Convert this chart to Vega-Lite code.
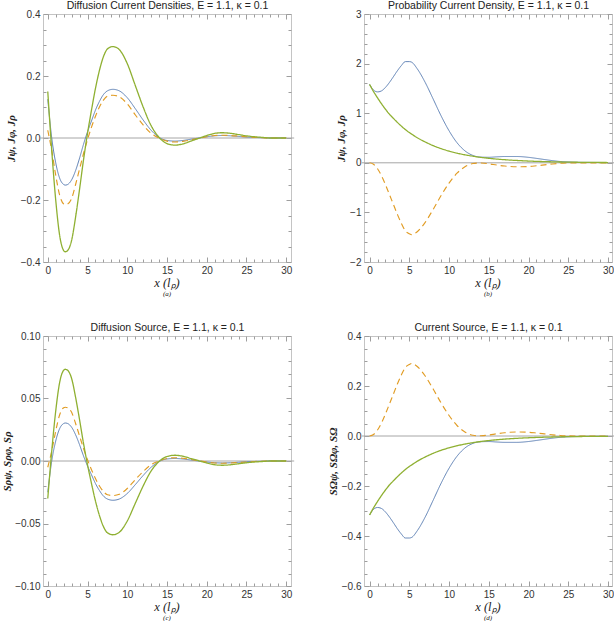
{
"$schema": "https://vega.github.io/schema/vega-lite/v6.json",
"padding": {"left": 1, "top": 0, "right": 1, "bottom": 0},
"background": "white",
"config": {
  "view": {"stroke": "#c4c4c4", "strokeWidth": 1},
  "axis": {"domain": false, "grid": false, "ticks": true, "tickColor": "#9e9e9e", "tickWidth": 1, "tickOpacity": 1, "labelFont": "Liberation Sans", "labelFontSize": 10, "labelColor": "#333", "titleColor": "#222"},
  "line": {"clip": true}
},
"datasets": {
  "zero": [{"x": -1, "y": 0}, {"x": 31, "y": 0}],
  "a": [
    {"x":0,"s":"psi","y":0.125},{"x":0.5,"s":"psi","y":0.0},{"x":1,"s":"psi","y":-0.08},{"x":1.5,"s":"psi","y":-0.13},{"x":2,"s":"psi","y":-0.15},{"x":2.2,"s":"psi","y":-0.152},{"x":2.5,"s":"psi","y":-0.15},{"x":3,"s":"psi","y":-0.135},{"x":3.5,"s":"psi","y":-0.105},{"x":4,"s":"psi","y":-0.065},{"x":4.5,"s":"psi","y":-0.02},{"x":5,"s":"psi","y":0.02},{"x":5.5,"s":"psi","y":0.055},{"x":6,"s":"psi","y":0.09},{"x":6.5,"s":"psi","y":0.118},{"x":7,"s":"psi","y":0.14},{"x":7.5,"s":"psi","y":0.152},{"x":8.2,"s":"psi","y":0.157},{"x":9,"s":"psi","y":0.152},{"x":10,"s":"psi","y":0.13},{"x":11,"s":"psi","y":0.095},{"x":12,"s":"psi","y":0.058},{"x":13,"s":"psi","y":0.025},{"x":14,"s":"psi","y":0.002},{"x":15,"s":"psi","y":-0.008},{"x":16,"s":"psi","y":-0.01},{"x":17,"s":"psi","y":-0.008},{"x":18,"s":"psi","y":-0.004},{"x":19,"s":"psi","y":0},{"x":20,"s":"psi","y":0.004},{"x":21,"s":"psi","y":0.007},{"x":22,"s":"psi","y":0.008},{"x":23,"s":"psi","y":0.007},{"x":24,"s":"psi","y":0.005},{"x":25,"s":"psi","y":0.003},{"x":26,"s":"psi","y":0.002},{"x":27,"s":"psi","y":0.001},{"x":28,"s":"psi","y":0},{"x":30,"s":"psi","y":0},
    {"x":0,"s":"phi","y":0.025},{"x":0.5,"s":"phi","y":-0.04},{"x":1,"s":"phi","y":-0.12},{"x":1.5,"s":"phi","y":-0.185},{"x":2,"s":"phi","y":-0.213},{"x":2.2,"s":"phi","y":-0.215},{"x":2.5,"s":"phi","y":-0.213},{"x":3,"s":"phi","y":-0.195},{"x":3.5,"s":"phi","y":-0.15},{"x":4,"s":"phi","y":-0.1},{"x":4.5,"s":"phi","y":-0.05},{"x":5,"s":"phi","y":-0.005},{"x":5.5,"s":"phi","y":0.035},{"x":6,"s":"phi","y":0.07},{"x":6.5,"s":"phi","y":0.1},{"x":7,"s":"phi","y":0.122},{"x":7.5,"s":"phi","y":0.135},{"x":8.2,"s":"phi","y":0.138},{"x":9,"s":"phi","y":0.133},{"x":10,"s":"phi","y":0.11},{"x":11,"s":"phi","y":0.075},{"x":12,"s":"phi","y":0.042},{"x":13,"s":"phi","y":0.015},{"x":14,"s":"phi","y":0},{"x":15,"s":"phi","y":-0.01},{"x":16,"s":"phi","y":-0.013},{"x":17,"s":"phi","y":-0.011},{"x":18,"s":"phi","y":-0.006},{"x":19,"s":"phi","y":-0.001},{"x":20,"s":"phi","y":0.004},{"x":21,"s":"phi","y":0.008},{"x":22,"s":"phi","y":0.009},{"x":23,"s":"phi","y":0.008},{"x":24,"s":"phi","y":0.006},{"x":25,"s":"phi","y":0.004},{"x":26,"s":"phi","y":0.002},{"x":27,"s":"phi","y":0.001},{"x":28,"s":"phi","y":0},{"x":30,"s":"phi","y":0},
    {"x":0,"s":"rho","y":0.15},{"x":0.5,"s":"rho","y":-0.04},{"x":1,"s":"rho","y":-0.2},{"x":1.5,"s":"rho","y":-0.315},{"x":2,"s":"rho","y":-0.363},{"x":2.2,"s":"rho","y":-0.367},{"x":2.5,"s":"rho","y":-0.363},{"x":3,"s":"rho","y":-0.33},{"x":3.5,"s":"rho","y":-0.255},{"x":4,"s":"rho","y":-0.165},{"x":4.5,"s":"rho","y":-0.07},{"x":5,"s":"rho","y":0.015},{"x":5.5,"s":"rho","y":0.09},{"x":6,"s":"rho","y":0.16},{"x":6.5,"s":"rho","y":0.218},{"x":7,"s":"rho","y":0.262},{"x":7.5,"s":"rho","y":0.287},{"x":8.2,"s":"rho","y":0.295},{"x":9,"s":"rho","y":0.285},{"x":10,"s":"rho","y":0.24},{"x":11,"s":"rho","y":0.17},{"x":12,"s":"rho","y":0.1},{"x":13,"s":"rho","y":0.04},{"x":14,"s":"rho","y":0.002},{"x":15,"s":"rho","y":-0.018},{"x":16,"s":"rho","y":-0.023},{"x":17,"s":"rho","y":-0.019},{"x":18,"s":"rho","y":-0.01},{"x":19,"s":"rho","y":-0.001},{"x":20,"s":"rho","y":0.008},{"x":21,"s":"rho","y":0.015},{"x":22,"s":"rho","y":0.017},{"x":23,"s":"rho","y":0.015},{"x":24,"s":"rho","y":0.011},{"x":25,"s":"rho","y":0.007},{"x":26,"s":"rho","y":0.004},{"x":27,"s":"rho","y":0.002},{"x":28,"s":"rho","y":0},{"x":30,"s":"rho","y":0}
  ],
  "b": [
    {"x":0,"s":"psi","y":1.58},{"x":0.5,"s":"psi","y":1.467},{"x":1,"s":"psi","y":1.43},{"x":1.5,"s":"psi","y":1.45},{"x":2,"s":"psi","y":1.52},{"x":2.5,"s":"psi","y":1.62},{"x":3,"s":"psi","y":1.736},{"x":3.5,"s":"psi","y":1.855},{"x":4,"s":"psi","y":1.96},{"x":4.5,"s":"psi","y":2.04},{"x":5,"s":"psi","y":2.04},{"x":5.3,"s":"psi","y":2.028},{"x":6,"s":"psi","y":1.895},{"x":7,"s":"psi","y":1.62},{"x":8,"s":"psi","y":1.286},{"x":9,"s":"psi","y":0.946},{"x":10,"s":"psi","y":0.646},{"x":11,"s":"psi","y":0.405},{"x":12,"s":"psi","y":0.241},{"x":13,"s":"psi","y":0.148},{"x":14,"s":"psi","y":0.115},{"x":15,"s":"psi","y":0.111},{"x":16,"s":"psi","y":0.12},{"x":17,"s":"psi","y":0.127},{"x":18.5,"s":"psi","y":0.127},{"x":20,"s":"psi","y":0.11},{"x":21,"s":"psi","y":0.089},{"x":22,"s":"psi","y":0.066},{"x":23,"s":"psi","y":0.044},{"x":24,"s":"psi","y":0.026},{"x":25,"s":"psi","y":0.017},{"x":26,"s":"psi","y":0.011},{"x":28,"s":"psi","y":0.0077},{"x":30,"s":"psi","y":0.0053},
    {"x":0,"s":"phi","y":0},{"x":0.5,"s":"phi","y":-0.03},{"x":1,"s":"phi","y":-0.12},{"x":1.5,"s":"phi","y":-0.26},{"x":2,"s":"phi","y":-0.44},{"x":2.5,"s":"phi","y":-0.64},{"x":3,"s":"phi","y":-0.84},{"x":3.5,"s":"phi","y":-1.04},{"x":4,"s":"phi","y":-1.22},{"x":4.5,"s":"phi","y":-1.37},{"x":5,"s":"phi","y":-1.43},{"x":5.3,"s":"phi","y":-1.45},{"x":6,"s":"phi","y":-1.39},{"x":7,"s":"phi","y":-1.2},{"x":8,"s":"phi","y":-0.94},{"x":9,"s":"phi","y":-0.66},{"x":10,"s":"phi","y":-0.41},{"x":11,"s":"phi","y":-0.21},{"x":12,"s":"phi","y":-0.08},{"x":13,"s":"phi","y":-0.015},{"x":14,"s":"phi","y":-0.005},{"x":15,"s":"phi","y":-0.02},{"x":16,"s":"phi","y":-0.045},{"x":17,"s":"phi","y":-0.065},{"x":18.5,"s":"phi","y":-0.08},{"x":20,"s":"phi","y":-0.075},{"x":21,"s":"phi","y":-0.06},{"x":22,"s":"phi","y":-0.042},{"x":23,"s":"phi","y":-0.024},{"x":24,"s":"phi","y":-0.01},{"x":25,"s":"phi","y":-0.003},{"x":26,"s":"phi","y":0},{"x":28,"s":"phi","y":0},{"x":30,"s":"phi","y":0},
    {"x":0,"s":"rho","y":1.58},{"x":0.5,"s":"rho","y":1.437},{"x":1,"s":"rho","y":1.31},{"x":1.5,"s":"rho","y":1.19},{"x":2,"s":"rho","y":1.08},{"x":2.5,"s":"rho","y":0.98},{"x":3,"s":"rho","y":0.896},{"x":3.5,"s":"rho","y":0.815},{"x":4,"s":"rho","y":0.74},{"x":4.5,"s":"rho","y":0.67},{"x":5,"s":"rho","y":0.61},{"x":5.3,"s":"rho","y":0.578},{"x":6,"s":"rho","y":0.505},{"x":7,"s":"rho","y":0.42},{"x":8,"s":"rho","y":0.346},{"x":9,"s":"rho","y":0.286},{"x":10,"s":"rho","y":0.236},{"x":11,"s":"rho","y":0.195},{"x":12,"s":"rho","y":0.161},{"x":13,"s":"rho","y":0.133},{"x":14,"s":"rho","y":0.11},{"x":15,"s":"rho","y":0.091},{"x":16,"s":"rho","y":0.075},{"x":17,"s":"rho","y":0.062},{"x":18.5,"s":"rho","y":0.047},{"x":20,"s":"rho","y":0.035},{"x":21,"s":"rho","y":0.029},{"x":22,"s":"rho","y":0.024},{"x":23,"s":"rho","y":0.02},{"x":24,"s":"rho","y":0.016},{"x":25,"s":"rho","y":0.0136},{"x":26,"s":"rho","y":0.011},{"x":28,"s":"rho","y":0.0077},{"x":30,"s":"rho","y":0.0053}
  ],
  "c": [
    {"x":0,"s":"psi","y":-0.025},{"x":0.5,"s":"psi","y":0},{"x":1,"s":"psi","y":0.016},{"x":1.5,"s":"psi","y":0.026},{"x":2,"s":"psi","y":0.03},{"x":2.2,"s":"psi","y":0.0304},{"x":2.5,"s":"psi","y":0.03},{"x":3,"s":"psi","y":0.027},{"x":3.5,"s":"psi","y":0.021},{"x":4,"s":"psi","y":0.013},{"x":4.5,"s":"psi","y":0.004},{"x":5,"s":"psi","y":-0.004},{"x":5.5,"s":"psi","y":-0.011},{"x":6,"s":"psi","y":-0.018},{"x":6.5,"s":"psi","y":-0.0236},{"x":7,"s":"psi","y":-0.028},{"x":7.5,"s":"psi","y":-0.0304},{"x":8.2,"s":"psi","y":-0.0314},{"x":9,"s":"psi","y":-0.0304},{"x":10,"s":"psi","y":-0.026},{"x":11,"s":"psi","y":-0.019},{"x":12,"s":"psi","y":-0.0116},{"x":13,"s":"psi","y":-0.005},{"x":14,"s":"psi","y":-0.0004},{"x":15,"s":"psi","y":0.0016},{"x":16,"s":"psi","y":0.002},{"x":17,"s":"psi","y":0.0016},{"x":18,"s":"psi","y":0.0008},{"x":19,"s":"psi","y":0},{"x":20,"s":"psi","y":-0.0008},{"x":21,"s":"psi","y":-0.0014},{"x":22,"s":"psi","y":-0.0016},{"x":23,"s":"psi","y":-0.0014},{"x":24,"s":"psi","y":-0.001},{"x":25,"s":"psi","y":-0.0006},{"x":26,"s":"psi","y":-0.0004},{"x":27,"s":"psi","y":-0.0002},{"x":28,"s":"psi","y":0},{"x":30,"s":"psi","y":0},
    {"x":0,"s":"phi","y":-0.005},{"x":0.5,"s":"phi","y":0.008},{"x":1,"s":"phi","y":0.024},{"x":1.5,"s":"phi","y":0.037},{"x":2,"s":"phi","y":0.0426},{"x":2.2,"s":"phi","y":0.043},{"x":2.5,"s":"phi","y":0.0426},{"x":3,"s":"phi","y":0.039},{"x":3.5,"s":"phi","y":0.03},{"x":4,"s":"phi","y":0.02},{"x":4.5,"s":"phi","y":0.01},{"x":5,"s":"phi","y":0.001},{"x":5.5,"s":"phi","y":-0.007},{"x":6,"s":"phi","y":-0.014},{"x":6.5,"s":"phi","y":-0.02},{"x":7,"s":"phi","y":-0.0244},{"x":7.5,"s":"phi","y":-0.027},{"x":8.2,"s":"phi","y":-0.0276},{"x":9,"s":"phi","y":-0.0266},{"x":10,"s":"phi","y":-0.022},{"x":11,"s":"phi","y":-0.015},{"x":12,"s":"phi","y":-0.0084},{"x":13,"s":"phi","y":-0.003},{"x":14,"s":"phi","y":0},{"x":15,"s":"phi","y":0.002},{"x":16,"s":"phi","y":0.0026},{"x":17,"s":"phi","y":0.0022},{"x":18,"s":"phi","y":0.0012},{"x":19,"s":"phi","y":0.0002},{"x":20,"s":"phi","y":-0.0008},{"x":21,"s":"phi","y":-0.0016},{"x":22,"s":"phi","y":-0.0018},{"x":23,"s":"phi","y":-0.0016},{"x":24,"s":"phi","y":-0.0012},{"x":25,"s":"phi","y":-0.0008},{"x":26,"s":"phi","y":-0.0004},{"x":27,"s":"phi","y":-0.0002},{"x":28,"s":"phi","y":0},{"x":30,"s":"phi","y":0},
    {"x":0,"s":"rho","y":-0.03},{"x":0.5,"s":"rho","y":0.008},{"x":1,"s":"rho","y":0.04},{"x":1.5,"s":"rho","y":0.063},{"x":2,"s":"rho","y":0.0726},{"x":2.2,"s":"rho","y":0.0734},{"x":2.5,"s":"rho","y":0.0726},{"x":3,"s":"rho","y":0.066},{"x":3.5,"s":"rho","y":0.051},{"x":4,"s":"rho","y":0.033},{"x":4.5,"s":"rho","y":0.014},{"x":5,"s":"rho","y":-0.003},{"x":5.5,"s":"rho","y":-0.018},{"x":6,"s":"rho","y":-0.032},{"x":6.5,"s":"rho","y":-0.0436},{"x":7,"s":"rho","y":-0.0524},{"x":7.5,"s":"rho","y":-0.0574},{"x":8.2,"s":"rho","y":-0.059},{"x":9,"s":"rho","y":-0.057},{"x":10,"s":"rho","y":-0.048},{"x":11,"s":"rho","y":-0.034},{"x":12,"s":"rho","y":-0.02},{"x":13,"s":"rho","y":-0.008},{"x":14,"s":"rho","y":-0.0004},{"x":15,"s":"rho","y":0.0036},{"x":16,"s":"rho","y":0.0046},{"x":17,"s":"rho","y":0.0038},{"x":18,"s":"rho","y":0.002},{"x":19,"s":"rho","y":0.0002},{"x":20,"s":"rho","y":-0.0016},{"x":21,"s":"rho","y":-0.003},{"x":22,"s":"rho","y":-0.0034},{"x":23,"s":"rho","y":-0.003},{"x":24,"s":"rho","y":-0.0022},{"x":25,"s":"rho","y":-0.0014},{"x":26,"s":"rho","y":-0.0008},{"x":27,"s":"rho","y":-0.0004},{"x":28,"s":"rho","y":0},{"x":30,"s":"rho","y":0}
  ],
  "d": [
    {"x":0,"s":"psi","y":-0.316},{"x":0.5,"s":"psi","y":-0.2934},{"x":1,"s":"psi","y":-0.286},{"x":1.5,"s":"psi","y":-0.29},{"x":2,"s":"psi","y":-0.304},{"x":2.5,"s":"psi","y":-0.324},{"x":3,"s":"psi","y":-0.347},{"x":3.5,"s":"psi","y":-0.371},{"x":4,"s":"psi","y":-0.392},{"x":4.5,"s":"psi","y":-0.408},{"x":5,"s":"psi","y":-0.408},{"x":5.3,"s":"psi","y":-0.4056},{"x":6,"s":"psi","y":-0.379},{"x":7,"s":"psi","y":-0.324},{"x":8,"s":"psi","y":-0.257},{"x":9,"s":"psi","y":-0.189},{"x":10,"s":"psi","y":-0.129},{"x":11,"s":"psi","y":-0.081},{"x":12,"s":"psi","y":-0.048},{"x":13,"s":"psi","y":-0.0296},{"x":14,"s":"psi","y":-0.023},{"x":15,"s":"psi","y":-0.0222},{"x":16,"s":"psi","y":-0.024},{"x":17,"s":"psi","y":-0.0254},{"x":18.5,"s":"psi","y":-0.0254},{"x":20,"s":"psi","y":-0.022},{"x":21,"s":"psi","y":-0.0178},{"x":22,"s":"psi","y":-0.0132},{"x":23,"s":"psi","y":-0.0088},{"x":24,"s":"psi","y":-0.0052},{"x":25,"s":"psi","y":-0.0033},{"x":26,"s":"psi","y":-0.0022},{"x":28,"s":"psi","y":-0.0015},{"x":30,"s":"psi","y":-0.0011},
    {"x":0,"s":"phi","y":0},{"x":0.5,"s":"phi","y":0.006},{"x":1,"s":"phi","y":0.024},{"x":1.5,"s":"phi","y":0.052},{"x":2,"s":"phi","y":0.088},{"x":2.5,"s":"phi","y":0.128},{"x":3,"s":"phi","y":0.168},{"x":3.5,"s":"phi","y":0.208},{"x":4,"s":"phi","y":0.244},{"x":4.5,"s":"phi","y":0.274},{"x":5,"s":"phi","y":0.286},{"x":5.3,"s":"phi","y":0.29},{"x":6,"s":"phi","y":0.278},{"x":7,"s":"phi","y":0.24},{"x":8,"s":"phi","y":0.188},{"x":9,"s":"phi","y":0.132},{"x":10,"s":"phi","y":0.082},{"x":11,"s":"phi","y":0.042},{"x":12,"s":"phi","y":0.016},{"x":13,"s":"phi","y":0.003},{"x":14,"s":"phi","y":0.001},{"x":15,"s":"phi","y":0.004},{"x":16,"s":"phi","y":0.009},{"x":17,"s":"phi","y":0.013},{"x":18.5,"s":"phi","y":0.016},{"x":20,"s":"phi","y":0.015},{"x":21,"s":"phi","y":0.012},{"x":22,"s":"phi","y":0.0084},{"x":23,"s":"phi","y":0.0048},{"x":24,"s":"phi","y":0.002},{"x":25,"s":"phi","y":0.0006},{"x":26,"s":"phi","y":0},{"x":28,"s":"phi","y":0},{"x":30,"s":"phi","y":0},
    {"x":0,"s":"rho","y":-0.316},{"x":0.5,"s":"rho","y":-0.2874},{"x":1,"s":"rho","y":-0.262},{"x":1.5,"s":"rho","y":-0.238},{"x":2,"s":"rho","y":-0.216},{"x":2.5,"s":"rho","y":-0.196},{"x":3,"s":"rho","y":-0.1792},{"x":3.5,"s":"rho","y":-0.163},{"x":4,"s":"rho","y":-0.148},{"x":4.5,"s":"rho","y":-0.134},{"x":5,"s":"rho","y":-0.122},{"x":5.3,"s":"rho","y":-0.1156},{"x":6,"s":"rho","y":-0.101},{"x":7,"s":"rho","y":-0.084},{"x":8,"s":"rho","y":-0.0692},{"x":9,"s":"rho","y":-0.0572},{"x":10,"s":"rho","y":-0.0472},{"x":11,"s":"rho","y":-0.039},{"x":12,"s":"rho","y":-0.0322},{"x":13,"s":"rho","y":-0.0266},{"x":14,"s":"rho","y":-0.022},{"x":15,"s":"rho","y":-0.0182},{"x":16,"s":"rho","y":-0.015},{"x":17,"s":"rho","y":-0.0124},{"x":18.5,"s":"rho","y":-0.0094},{"x":20,"s":"rho","y":-0.007},{"x":21,"s":"rho","y":-0.0058},{"x":22,"s":"rho","y":-0.0048},{"x":23,"s":"rho","y":-0.004},{"x":24,"s":"rho","y":-0.0032},{"x":25,"s":"rho","y":-0.0027},{"x":26,"s":"rho","y":-0.0022},{"x":28,"s":"rho","y":-0.0015},{"x":30,"s":"rho","y":-0.0011}
  ]
},
"columns": 2,
"spacing": {"row": 25, "column": 29},
"concat": [
  {
    "width": 248, "height": 248,
    "title": {"text": "x (lₚ)", "subtitle": "(a)", "orient": "bottom", "anchor": "middle", "font": "Liberation Serif", "fontStyle": "italic", "fontWeight": "normal", "fontSize": 12.5, "color": "#222", "offset": 2, "subtitleFont": "Liberation Serif", "subtitleFontStyle": "italic", "subtitleFontSize": 7, "subtitleColor": "#222", "subtitlePadding": 0},
    "resolve": {"axis": {"x": "independent", "y": "independent"}},
    "layer": [
      {"data": {"name": "zero"}, "mark": {"type": "line", "color": "#a6a6a6", "strokeWidth": 1},
       "encoding": {
         "x": {"field": "x", "type": "quantitative", "scale": {"domain": [-0.6, 30.6], "nice": false, "zero": false}, "axis": {"orient": "top", "offset": -5, "tickSize": 5, "title": "Diffusion Current Densities, E = 1.1, κ = 0.1", "titleFont": "Liberation Sans", "titleFontSize": 10.5, "titleFontWeight": "normal", "titlePadding": 3, "labels": false, "values": [0,5,10,15,20,25,30]}},
         "y": {"field": "y", "type": "quantitative", "scale": {"domain": [-0.4, 0.4], "nice": false, "zero": false}, "axis": {"orient": "right", "offset": -5, "tickSize": 5, "title": null, "labels": false, "values": [-0.4,-0.2,0,0.2,0.4]}}}},
      {"data": {"name": "a"}, "mark": {"type": "line", "interpolate": "monotone"},
       "encoding": {
         "x": {"field": "x", "type": "quantitative", "axis": {"orient": "bottom", "offset": -5, "tickSize": 5, "labelPadding": 3, "title": null, "values": [0,5,10,15,20,25,30]}},
         "y": {"field": "y", "type": "quantitative", "axis": {"orient": "left", "offset": -5, "tickSize": 5, "labelPadding": 3, "title": "Jψ, Jφ, Jρ", "titleFont": "Liberation Serif", "titleFontStyle": "italic", "titleFontWeight": "bold", "titleFontSize": 11, "titlePadding": 4, "values": [-0.4,-0.2,0,0.2,0.4], "format": ".1f"}},
         "color": {"field": "s", "type": "nominal", "scale": {"domain": ["psi","phi","rho"], "range": ["#5E81B5","#E19C24","#8FB032"]}, "legend": null},
         "strokeDash": {"field": "s", "type": "nominal", "scale": {"domain": ["psi","phi","rho"], "range": [[1,0],[6,4],[1,0]]}, "legend": null},
         "strokeWidth": {"field": "s", "type": "nominal", "scale": {"domain": ["psi","phi","rho"], "range": [1,1.3,3]}, "legend": null}}},
      {"data": {"name": "zero"}, "mark": {"type": "line", "opacity": 0},
       "encoding": {
         "x": {"field": "x", "type": "quantitative", "axis": {"orient": "bottom", "offset": -3, "tickSize": 3, "title": null, "labels": false, "values": [1,2,3,4,6,7,8,9,11,12,13,14,16,17,18,19,21,22,23,24,26,27,28,29]}},
         "y": {"field": "y", "type": "quantitative", "axis": {"orient": "left", "offset": -3, "tickSize": 3, "title": null, "labels": false, "values": [-0.35,-0.3,-0.25,-0.15,-0.1,-0.05,0.05,0.1,0.15,0.25,0.3,0.35]}}}},
      {"data": {"name": "zero"}, "mark": {"type": "line", "opacity": 0},
       "encoding": {
         "x": {"field": "x", "type": "quantitative", "axis": {"orient": "top", "offset": -3, "tickSize": 3, "title": null, "labels": false, "values": [1,2,3,4,6,7,8,9,11,12,13,14,16,17,18,19,21,22,23,24,26,27,28,29]}},
         "y": {"field": "y", "type": "quantitative", "axis": {"orient": "right", "offset": -3, "tickSize": 3, "title": null, "labels": false, "values": [-0.35,-0.3,-0.25,-0.15,-0.1,-0.05,0.05,0.1,0.15,0.25,0.3,0.35]}}}}
    ]
  },
  {
    "width": 248, "height": 248,
    "title": {"text": "x (lₚ)", "subtitle": "(b)", "orient": "bottom", "anchor": "middle", "font": "Liberation Serif", "fontStyle": "italic", "fontWeight": "normal", "fontSize": 12.5, "color": "#222", "offset": 2, "subtitleFont": "Liberation Serif", "subtitleFontStyle": "italic", "subtitleFontSize": 7, "subtitleColor": "#222", "subtitlePadding": 0},
    "resolve": {"axis": {"x": "independent", "y": "independent"}},
    "layer": [
      {"data": {"name": "zero"}, "mark": {"type": "line", "color": "#a6a6a6", "strokeWidth": 1},
       "encoding": {
         "x": {"field": "x", "type": "quantitative", "scale": {"domain": [-0.7, 30.5], "nice": false, "zero": false}, "axis": {"orient": "top", "offset": -5, "tickSize": 5, "title": "Probability Current Density, E = 1.1, κ = 0.1", "titleFont": "Liberation Sans", "titleFontSize": 10.5, "titleFontWeight": "normal", "titlePadding": 3, "labels": false, "values": [0,5,10,15,20,25,30]}},
         "y": {"field": "y", "type": "quantitative", "scale": {"domain": [-2, 3], "nice": false, "zero": false}, "axis": {"orient": "right", "offset": -5, "tickSize": 5, "title": null, "labels": false, "values": [-2,-1,0,1,2,3]}}}},
      {"data": {"name": "b"}, "mark": {"type": "line", "interpolate": "monotone"},
       "encoding": {
         "x": {"field": "x", "type": "quantitative", "axis": {"orient": "bottom", "offset": -5, "tickSize": 5, "labelPadding": 3, "title": null, "values": [0,5,10,15,20,25,30]}},
         "y": {"field": "y", "type": "quantitative", "axis": {"orient": "left", "offset": -5, "tickSize": 5, "labelPadding": 3, "title": "Jψ, Jφ, Jρ", "titleFont": "Liberation Serif", "titleFontStyle": "italic", "titleFontWeight": "bold", "titleFontSize": 11, "titlePadding": 3, "values": [-2,-1,0,1,2,3], "format": "d"}},
         "color": {"field": "s", "type": "nominal", "scale": {"domain": ["psi","phi","rho"], "range": ["#5E81B5","#E19C24","#8FB032"]}, "legend": null},
         "strokeDash": {"field": "s", "type": "nominal", "scale": {"domain": ["psi","phi","rho"], "range": [[1,0],[6,4],[1,0]]}, "legend": null},
         "strokeWidth": {"field": "s", "type": "nominal", "scale": {"domain": ["psi","phi","rho"], "range": [1,1.3,3]}, "legend": null}}},
      {"data": {"name": "zero"}, "mark": {"type": "line", "opacity": 0},
       "encoding": {
         "x": {"field": "x", "type": "quantitative", "axis": {"orient": "bottom", "offset": -3, "tickSize": 3, "title": null, "labels": false, "values": [1,2,3,4,6,7,8,9,11,12,13,14,16,17,18,19,21,22,23,24,26,27,28,29]}},
         "y": {"field": "y", "type": "quantitative", "axis": {"orient": "left", "offset": -3, "tickSize": 3, "title": null, "labels": false, "values": [-1.8,-1.6,-1.4,-1.2,-0.8,-0.6,-0.4,-0.2,0.2,0.4,0.6,0.8,1.2,1.4,1.6,1.8,2.2,2.4,2.6,2.8]}}}},
      {"data": {"name": "zero"}, "mark": {"type": "line", "opacity": 0},
       "encoding": {
         "x": {"field": "x", "type": "quantitative", "axis": {"orient": "top", "offset": -3, "tickSize": 3, "title": null, "labels": false, "values": [1,2,3,4,6,7,8,9,11,12,13,14,16,17,18,19,21,22,23,24,26,27,28,29]}},
         "y": {"field": "y", "type": "quantitative", "axis": {"orient": "right", "offset": -3, "tickSize": 3, "title": null, "labels": false, "values": [-1.8,-1.6,-1.4,-1.2,-0.8,-0.6,-0.4,-0.2,0.2,0.4,0.6,0.8,1.2,1.4,1.6,1.8,2.2,2.4,2.6,2.8]}}}}
    ]
  },
  {
    "width": 248, "height": 250,
    "title": {"text": "x (lₚ)", "subtitle": "(c)", "orient": "bottom", "anchor": "middle", "font": "Liberation Serif", "fontStyle": "italic", "fontWeight": "normal", "fontSize": 12.5, "color": "#222", "offset": 2, "subtitleFont": "Liberation Serif", "subtitleFontStyle": "italic", "subtitleFontSize": 7, "subtitleColor": "#222", "subtitlePadding": 0},
    "resolve": {"axis": {"x": "independent", "y": "independent"}},
    "layer": [
      {"data": {"name": "zero"}, "mark": {"type": "line", "color": "#a6a6a6", "strokeWidth": 1},
       "encoding": {
         "x": {"field": "x", "type": "quantitative", "scale": {"domain": [-0.6, 30.6], "nice": false, "zero": false}, "axis": {"orient": "top", "offset": -5, "tickSize": 5, "title": "Diffusion Source, E = 1.1, κ = 0.1", "titleFont": "Liberation Sans", "titleFontSize": 10.5, "titleFontWeight": "normal", "titlePadding": 3, "labels": false, "values": [0,5,10,15,20,25,30]}},
         "y": {"field": "y", "type": "quantitative", "scale": {"domain": [-0.1, 0.1], "nice": false, "zero": false}, "axis": {"orient": "right", "offset": -5, "tickSize": 5, "title": null, "labels": false, "values": [-0.1,-0.05,0,0.05,0.1]}}}},
      {"data": {"name": "c"}, "mark": {"type": "line", "interpolate": "monotone"},
       "encoding": {
         "x": {"field": "x", "type": "quantitative", "axis": {"orient": "bottom", "offset": -5, "tickSize": 5, "labelPadding": 3, "title": null, "values": [0,5,10,15,20,25,30]}},
         "y": {"field": "y", "type": "quantitative", "axis": {"orient": "left", "offset": -5, "tickSize": 5, "labelPadding": 3, "title": "Sρψ, Sρφ, Sρ", "titleFont": "Liberation Serif", "titleFontStyle": "italic", "titleFontWeight": "bold", "titleFontSize": 11, "titlePadding": 2, "values": [-0.1,-0.05,0,0.05,0.1], "format": ".2f"}},
         "color": {"field": "s", "type": "nominal", "scale": {"domain": ["psi","phi","rho"], "range": ["#5E81B5","#E19C24","#8FB032"]}, "legend": null},
         "strokeDash": {"field": "s", "type": "nominal", "scale": {"domain": ["psi","phi","rho"], "range": [[1,0],[6,4],[1,0]]}, "legend": null},
         "strokeWidth": {"field": "s", "type": "nominal", "scale": {"domain": ["psi","phi","rho"], "range": [1,1.3,3]}, "legend": null}}},
      {"data": {"name": "zero"}, "mark": {"type": "line", "opacity": 0},
       "encoding": {
         "x": {"field": "x", "type": "quantitative", "axis": {"orient": "bottom", "offset": -3, "tickSize": 3, "title": null, "labels": false, "values": [1,2,3,4,6,7,8,9,11,12,13,14,16,17,18,19,21,22,23,24,26,27,28,29]}},
         "y": {"field": "y", "type": "quantitative", "axis": {"orient": "left", "offset": -3, "tickSize": 3, "title": null, "labels": false, "values": [-0.09,-0.08,-0.07,-0.06,-0.04,-0.03,-0.02,-0.01,0.01,0.02,0.03,0.04,0.06,0.07,0.08,0.09]}}}},
      {"data": {"name": "zero"}, "mark": {"type": "line", "opacity": 0},
       "encoding": {
         "x": {"field": "x", "type": "quantitative", "axis": {"orient": "top", "offset": -3, "tickSize": 3, "title": null, "labels": false, "values": [1,2,3,4,6,7,8,9,11,12,13,14,16,17,18,19,21,22,23,24,26,27,28,29]}},
         "y": {"field": "y", "type": "quantitative", "axis": {"orient": "right", "offset": -3, "tickSize": 3, "title": null, "labels": false, "values": [-0.09,-0.08,-0.07,-0.06,-0.04,-0.03,-0.02,-0.01,0.01,0.02,0.03,0.04,0.06,0.07,0.08,0.09]}}}}
    ]
  },
  {
    "width": 248, "height": 250,
    "title": {"text": "x (lₚ)", "subtitle": "(d)", "orient": "bottom", "anchor": "middle", "font": "Liberation Serif", "fontStyle": "italic", "fontWeight": "normal", "fontSize": 12.5, "color": "#222", "offset": 2, "subtitleFont": "Liberation Serif", "subtitleFontStyle": "italic", "subtitleFontSize": 7, "subtitleColor": "#222", "subtitlePadding": 0},
    "resolve": {"axis": {"x": "independent", "y": "independent"}},
    "layer": [
      {"data": {"name": "zero"}, "mark": {"type": "line", "color": "#a6a6a6", "strokeWidth": 1},
       "encoding": {
         "x": {"field": "x", "type": "quantitative", "scale": {"domain": [-0.7, 30.5], "nice": false, "zero": false}, "axis": {"orient": "top", "offset": -5, "tickSize": 5, "title": "Current Source, E = 1.1, κ = 0.1", "titleFont": "Liberation Sans", "titleFontSize": 10.5, "titleFontWeight": "normal", "titlePadding": 3, "labels": false, "values": [0,5,10,15,20,25,30]}},
         "y": {"field": "y", "type": "quantitative", "scale": {"domain": [-0.6, 0.4], "nice": false, "zero": false}, "axis": {"orient": "right", "offset": -5, "tickSize": 5, "title": null, "labels": false, "values": [-0.6,-0.4,-0.2,0,0.2,0.4]}}}},
      {"data": {"name": "d"}, "mark": {"type": "line", "interpolate": "monotone"},
       "encoding": {
         "x": {"field": "x", "type": "quantitative", "axis": {"orient": "bottom", "offset": -5, "tickSize": 5, "labelPadding": 3, "title": null, "values": [0,5,10,15,20,25,30]}},
         "y": {"field": "y", "type": "quantitative", "axis": {"orient": "left", "offset": -5, "tickSize": 5, "labelPadding": 3, "title": "SΩψ, SΩφ, SΩ", "titleFont": "Liberation Serif", "titleFontStyle": "italic", "titleFontWeight": "bold", "titleFontSize": 11, "titlePadding": 3, "values": [-0.6,-0.4,-0.2,0,0.2,0.4], "format": ".1f"}},
         "color": {"field": "s", "type": "nominal", "scale": {"domain": ["psi","phi","rho"], "range": ["#5E81B5","#E19C24","#8FB032"]}, "legend": null},
         "strokeDash": {"field": "s", "type": "nominal", "scale": {"domain": ["psi","phi","rho"], "range": [[1,0],[6,4],[1,0]]}, "legend": null},
         "strokeWidth": {"field": "s", "type": "nominal", "scale": {"domain": ["psi","phi","rho"], "range": [1,1.3,3]}, "legend": null}}},
      {"data": {"name": "zero"}, "mark": {"type": "line", "opacity": 0},
       "encoding": {
         "x": {"field": "x", "type": "quantitative", "axis": {"orient": "bottom", "offset": -3, "tickSize": 3, "title": null, "labels": false, "values": [1,2,3,4,6,7,8,9,11,12,13,14,16,17,18,19,21,22,23,24,26,27,28,29]}},
         "y": {"field": "y", "type": "quantitative", "axis": {"orient": "left", "offset": -3, "tickSize": 3, "title": null, "labels": false, "values": [-0.55,-0.5,-0.45,-0.35,-0.3,-0.25,-0.15,-0.1,-0.05,0.05,0.1,0.15,0.25,0.3,0.35]}}}},
      {"data": {"name": "zero"}, "mark": {"type": "line", "opacity": 0},
       "encoding": {
         "x": {"field": "x", "type": "quantitative", "axis": {"orient": "top", "offset": -3, "tickSize": 3, "title": null, "labels": false, "values": [1,2,3,4,6,7,8,9,11,12,13,14,16,17,18,19,21,22,23,24,26,27,28,29]}},
         "y": {"field": "y", "type": "quantitative", "axis": {"orient": "right", "offset": -3, "tickSize": 3, "title": null, "labels": false, "values": [-0.55,-0.5,-0.45,-0.35,-0.3,-0.25,-0.15,-0.1,-0.05,0.05,0.1,0.15,0.25,0.3,0.35]}}}}
    ]
  }
]
}
